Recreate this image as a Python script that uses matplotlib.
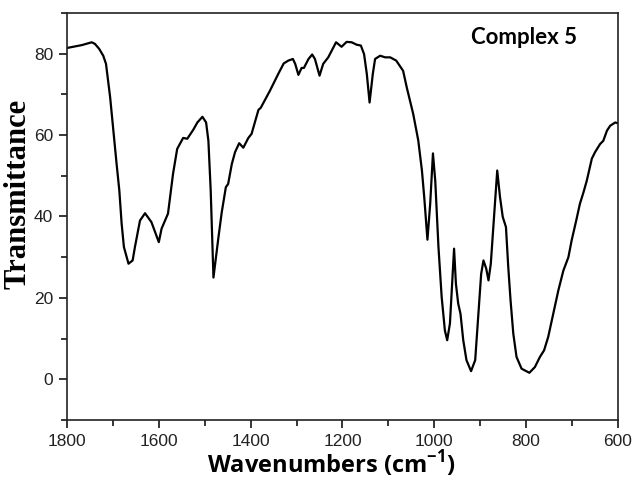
import matplotlib
matplotlib.use("Agg")
import matplotlib.pyplot as plt
from matplotlib.ticker import MultipleLocator

# IR spectrum
wavenumber = [1800, 1768, 1746, 1739, 1730, 1721, 1715, 1706, 1699, 1692, 1686, 1681, 1676,
              1666, 1657, 1652, 1641, 1630, 1616, 1600, 1594, 1580, 1569, 1560, 1547, 1538,
              1525, 1516, 1505, 1497, 1492, 1487, 1481, 1470, 1463, 1454, 1449, 1441, 1434,
              1425, 1416, 1405, 1398, 1383, 1378, 1358, 1340, 1328, 1318, 1308, 1303, 1296,
              1289, 1284, 1274, 1266, 1260, 1250, 1242, 1231, 1214, 1202, 1191, 1180, 1169,
              1160, 1153, 1147, 1141, 1134, 1129, 1118, 1107, 1096, 1083, 1068, 1060, 1046,
              1035, 1027, 1022, 1015, 1009, 1003, 998, 991, 984, 977, 972, 966, 962, 957,
              953, 948, 943, 937, 930, 920, 911, 904, 898, 893, 887, 882, 877, 870, 863,
              857, 851, 844, 839, 834, 828, 821, 810, 793, 781, 770, 761, 752, 741, 730,
              719, 708, 701, 691, 683, 675, 668, 657, 650, 639, 632, 624, 617, 606, 600]
transmittance = [81.4, 82.1, 82.8, 82.4, 81.2, 79.5, 77.5, 69.3, 61.1, 53.0, 46.4, 38.3, 32.5,
                 28.4, 29.2, 32.5, 39.0, 40.8, 38.6, 33.7, 37.0, 40.7, 50.5, 56.6, 59.3, 59.1,
                 61.3, 63.1, 64.5, 63.1, 58.6, 46.4, 25.0, 35.0, 41.0, 47.2, 48.0, 52.9, 55.8,
                 58.0, 56.9, 59.3, 60.3, 66.2, 66.7, 70.9, 75.0, 77.6, 78.3, 78.7, 77.5, 74.8,
                 76.5, 76.5, 78.7, 79.8, 78.7, 74.6, 77.5, 79.1, 82.8, 81.7, 82.9, 82.8, 82.2,
                 82.0, 79.9, 75.0, 68.0, 75.0, 78.7, 79.5, 79.1, 79.1, 78.3, 75.8, 71.7, 65.2,
                 58.7, 51.3, 44.8, 34.3, 43.1, 55.5, 48.8, 32.5, 20.2, 12.0, 9.6, 13.7, 21.8, 32.1,
                 23.5, 18.6, 16.1, 9.6, 4.7, 2.0, 4.7, 16.1, 25.9, 29.2, 27.2, 24.3, 28.4, 39.9, 51.3,
                 44.8, 39.9, 37.4, 27.6, 19.4, 11.2, 5.5, 2.6, 1.6, 3.0, 5.5, 7.1, 10.4, 16.1, 21.8,
                 26.7, 30.0, 34.1, 39.0, 43.1, 46.0, 48.8, 54.2, 55.8, 57.8, 58.6, 61.1, 62.3, 63.1, 62.9]

plt.rcParams['mathtext.fontset'] = 'custom'
plt.rcParams['mathtext.rm'] = 'Open Sans'
plt.rcParams['mathtext.bf'] = 'Open Sans:bold'

fig = plt.figure(figsize=(6.33, 4.79), dpi=100)
ax = fig.add_axes([0.1058, 0.1232, 0.8705, 0.8497])

ax.plot(wavenumber, transmittance, color='black', linewidth=1.6, solid_joinstyle='round')

ax.set_xlim(1800, 600)
ax.set_ylim(-10, 90)
ax.xaxis.set_major_locator(MultipleLocator(200))
ax.xaxis.set_minor_locator(MultipleLocator(100))
ax.yaxis.set_major_locator(MultipleLocator(20))
ax.yaxis.set_minor_locator(MultipleLocator(10))
ax.tick_params(which='major', direction='out', length=6, width=1.1, labelsize=12.5, pad=4)
ax.tick_params(which='minor', direction='out', length=4, width=1.1)
for lab in ax.get_xticklabels() + ax.get_yticklabels():
	lab.set_fontfamily('Liberation Sans')
	lab.set_color('#222222')
for sp in ax.spines.values():
	sp.set_linewidth(1.2)
	sp.set_color('#222222')

ax.set_xlabel(r'Wavenumbers (cm$^{\mathbf{-1}}$)', fontfamily='Open Sans', fontweight='bold',
              fontsize=17)
ax.xaxis.set_label_coords(0.479, -0.068)
ax.set_ylabel('Transmittance', fontfamily='Liberation Serif', fontweight='bold', fontsize=22)
ax.yaxis.set_label_coords(-0.062, 0.555)
ax.text(0.83, 0.94, 'Complex 5', transform=ax.transAxes, ha='center', va='center',
        fontfamily='Lato', fontweight='bold', fontsize=16)

plt.savefig('out.png', dpi=100)
